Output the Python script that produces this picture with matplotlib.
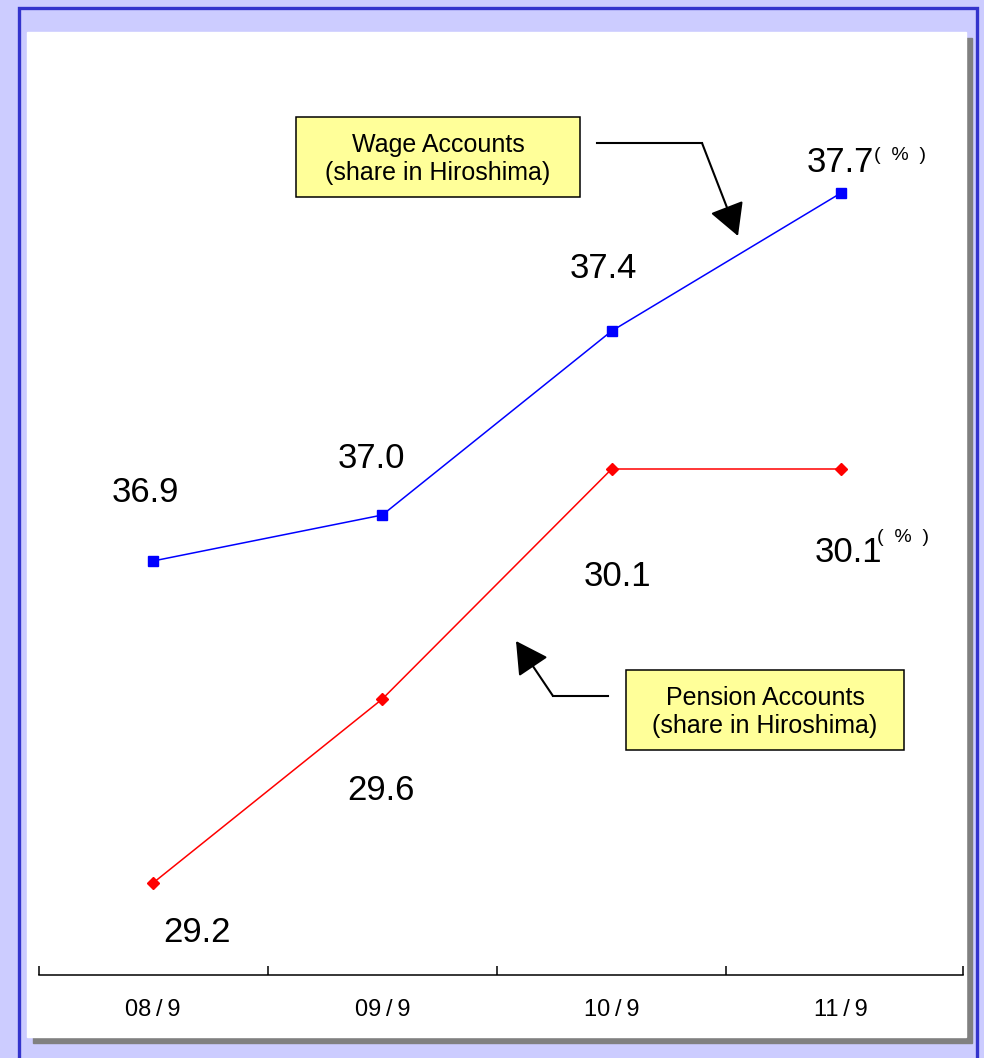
import matplotlib.pyplot as plt
from matplotlib.patches import Rectangle
from matplotlib.lines import Line2D

periods = ['08\u2009/\u20099', '09\u2009/\u20099', '10\u2009/\u20099', '11\u2009/\u20099']
wage_share = [36.9, 37.0, 37.4, 37.7]
pension_share = [29.2, 29.6, 30.1, 30.1]

W, H = 984, 1058
plt.rcParams['font.family'] = ['Liberation Sans', 'DejaVu Sans']

fig = plt.figure(figsize=(W / 100, H / 100), dpi=100, facecolor='#CCCCFF')


def fx(x):
    return x / W


def fy(y):
    return 1 - y / H


# frame: shadow, white panel, blue border
fig.add_artist(Rectangle((fx(33), fy(1043)), (972 - 33) / W, (1043 - 38) / H,
                         transform=fig.transFigure, color='#808080', zorder=-3))
fig.add_artist(Rectangle((fx(27), fy(1037)), (966 - 27) / W, (1037 - 32) / H,
                         transform=fig.transFigure, color='white', zorder=-2))
fig.add_artist(Rectangle((fx(19), fy(1075)), (977 - 19) / W, (1075 - 8) / H,
                         transform=fig.transFigure, fill=False,
                         ec='#3333CC', lw=2.4, zorder=-1))

ax = fig.add_axes([39 / W, (H - 975) / H, (963 - 39) / W, (975 - 55) / H])
ax.set_facecolor('none')
ax2 = ax.twinx()

x = [i + 0.5 for i in range(len(periods))]

ax.plot(x, wage_share, color='#0000FF', lw=1.1, marker='s', ms=7.5,
        clip_on=False)
ax2.plot(x, pension_share, color='#FF0000', lw=1.1, marker='D', ms=6.5,
         clip_on=False)

x0, x1 = 0.003, 4.032
ax.set_xlim(x0, x1)
ax.set_ylim(36, 38)
ax2.set_ylim(29, 31)

for a in (ax, ax2):
    for s in ('top', 'left', 'right', 'bottom'):
        a.spines[s].set_visible(False)
    a.set_yticks([])

ax.spines['bottom'].set_visible(True)
ax.spines['bottom'].set_linewidth(1.1)
ax.set_xticks([x0, 1, 2, 3, x1])
ax.set_xticklabels([])
ax.tick_params(axis='x', which='major', direction='in', length=6.5, width=1.1)
ax.set_xticks(x, minor=True)
ax.set_xticklabels(periods, minor=True, fontsize=17)
ax.tick_params(axis='x', which='minor', length=0, pad=17)

# value labels
wage_off = [(-8, 69), (-11, 56), (-8, 62), (-1, 31)]
pension_off = [(44, -49), (-1, -91), (6, -108), (7, -84)]
for xi, v, off in zip(x, wage_share, wage_off):
    ax.annotate(f'{v:.1f}', (xi, v), xytext=off, textcoords='offset pixels',
                ha='center', va='center', fontsize=25, annotation_clip=False)
for xi, v, off in zip(x, pension_share, pension_off):
    ax2.annotate(f'{v:.1f}', (xi, v), xytext=off, textcoords='offset pixels',
                 ha='center', va='center', fontsize=25, annotation_clip=False)

ax.annotate('(  %  )', (x[-1], wage_share[-1]), xytext=(59, 37),
            textcoords='offset pixels', ha='center', va='center', fontsize=14)
ax2.annotate('(  %  )', (x[-1], pension_share[-1]), xytext=(62, -68),
             textcoords='offset pixels', ha='center', va='center', fontsize=14)

# callout boxes
boxes = [
    ((296, 117, 580, 197), 'Wage Accounts\n(share in Hiroshima)'),
    ((626, 670, 904, 750), 'Pension Accounts\n(share in Hiroshima)'),
]
for (bx0, by0, bx1, by1), txt in boxes:
    fig.add_artist(Rectangle((fx(bx0), fy(by1)), (bx1 - bx0) / W, (by1 - by0) / H,
                             transform=fig.transFigure, fc='#FFFF99',
                             ec='black', lw=1.1, zorder=3))
    fig.text(fx((bx0 + bx1) / 2), fy((by0 + by1) / 2 + 2), txt, ha='center',
             va='center', fontsize=18, linespacing=1.25, zorder=4)

# callout arrows
arrows = [((597, 143), (702, 143), (738, 236)),
          ((608, 696), (553, 696), (516, 641))]
for p0, p1, tip in arrows:
    fig.add_artist(Line2D([fx(p0[0]), fx(p1[0])], [fy(p0[1]), fy(p1[1])],
                          transform=fig.transFigure, color='black', lw=1.5))
    ax.annotate('', xy=(tip[0], H - tip[1]), xytext=(p1[0], H - p1[1]),
                xycoords='figure pixels', textcoords='figure pixels',
                arrowprops=dict(arrowstyle='-|>,head_length=1.0,head_width=0.55',
                                mutation_scale=20, color='black', lw=1.5,
                                shrinkA=0, shrinkB=0))

fig.savefig('out.png', dpi=100, facecolor=fig.get_facecolor())
